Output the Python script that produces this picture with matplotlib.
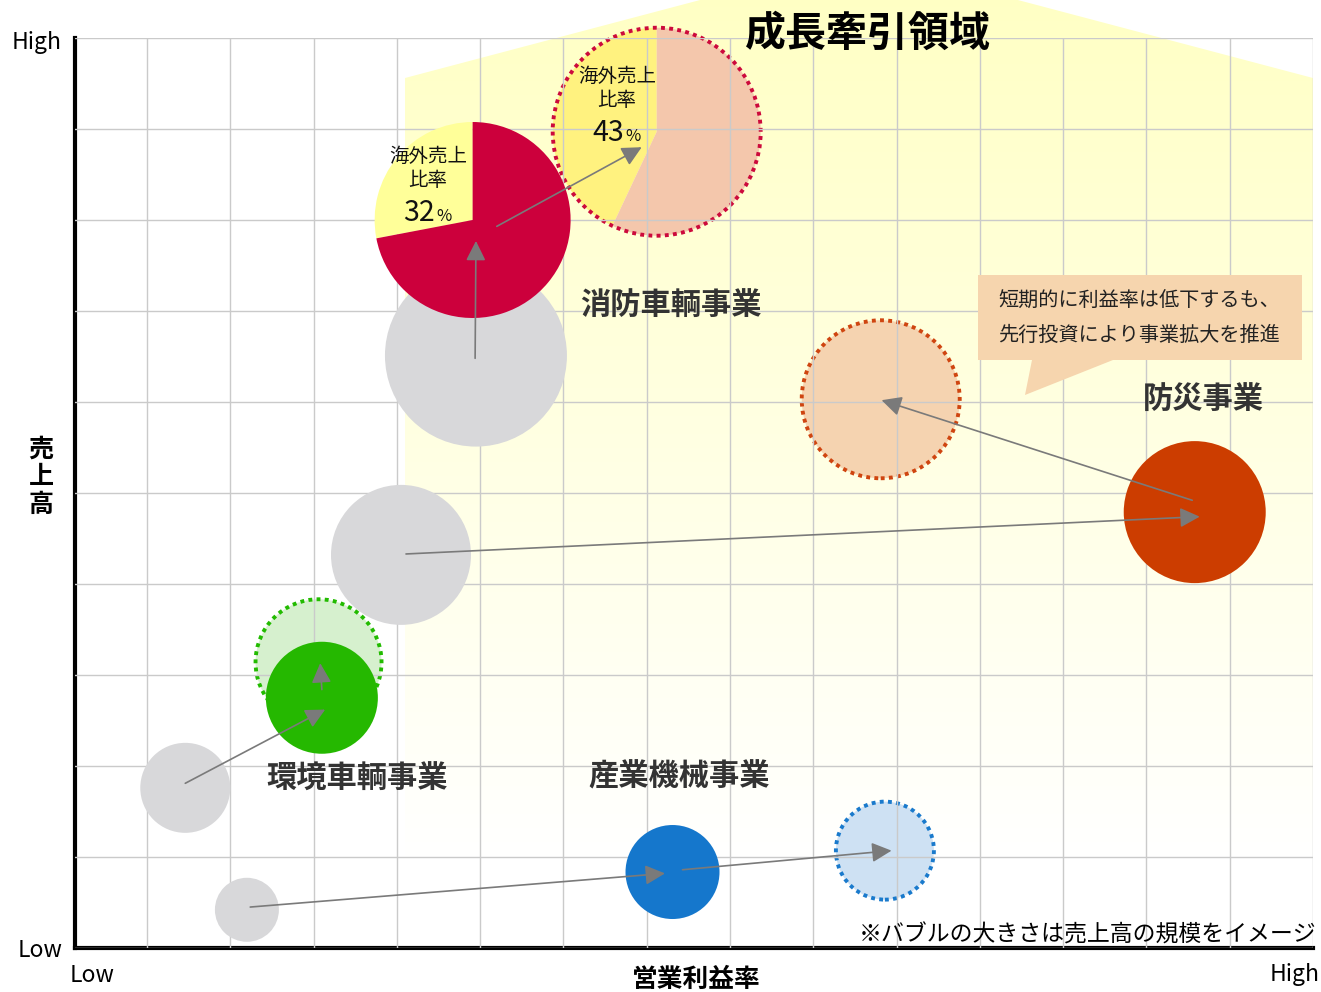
import matplotlib
matplotlib.use("Agg")
import matplotlib.pyplot as plt
import numpy as np
from matplotlib.patches import Circle, Wedge, Polygon
from matplotlib.transforms import ScaledTranslation

plt.rcParams['font.family'] = ['Noto Sans CJK JP', 'DejaVu Sans']

# x: 営業利益率 (grid units), y: 売上高 (grid units), r: bubble radius (px)
grey_x = [1.20, 0.46, 3.05, 3.95]
grey_y = [0.42, 1.76, 4.32, 6.51]
grey_r = [32, 45, 70, 91]

segments = ['消防車輌事業', '防災事業', '環境車輌事業', '産業機械事業']
now_x = [3.91, 12.58, 2.10, 6.31]
now_y = [8.00, 4.79, 2.75, 0.835]
now_r = [98, 71, 56, 47]
fut_x = [6.12, 8.81, 2.06, 8.86]
fut_y = [8.97, 6.03, 3.14, 1.07]
fut_r = [104, 79, 63, 49]

# 海外売上比率 (消防車輌事業: now -> future)
overseas_label = [32, 43]
overseas_share = [0.28, 0.43]

arrow_from = [(1.24, 0.45), (6.43, 0.86), (0.46, 1.81), (2.10, 2.84),
              (3.11, 4.33), (12.55, 4.92), (3.94, 6.48), (4.20, 7.93)]
arrow_to = [(6.22, 0.82), (8.94, 1.07), (2.14, 2.62), (2.08, 3.13),
            (12.64, 4.74), (8.82, 6.02), (3.95, 7.77), (5.94, 8.80)]

now_col = ['#CC003C', '#CC3D00', '#25B800', '#1577CC']
fut_fill = [None, '#F5D3B0', '#D6F0CE', '#CEE1F3']
fut_edge = ['#CC0A3C', '#CF4510', '#22BB00', '#1A7ACC']

W, H = 1321, 992
fig = plt.figure(figsize=(W / 100, H / 100), dpi=100)

# background "growth area" with yellow gradient
bg = fig.add_axes([0, 0, 1, 1], zorder=0)
g = np.linspace(0, 1, 256)[:, None, None]
top = np.array([1.0, 1.0, 0.76])[None, None, :]
img = top * (1 - g) + g
im = bg.imshow(img, extent=[405, 1313, 860, -42], aspect='auto')
roof = Polygon([(405, 860), (405, 78), (859, -42), (1313, 78), (1313, 860)],
               closed=True, facecolor='none', edgecolor='none')
bg.add_patch(roof)
im.set_clip_path(roof)
bg.set_xlim(0, W)
bg.set_ylim(H, 0)
bg.axis('off')

# main chart
ax = fig.add_axes([75 / W, (H - 948) / H, (1313 - 75) / W, (948 - 38) / H], zorder=1)
ax.set_facecolor('none')
ax.set_xlim(-0.864, 14)
ax.set_ylim(0, 10)
ax.set_xticks(range(15))
ax.set_yticks(range(11))
ax.tick_params(length=0, labelbottom=False, labelleft=False)
ax.grid(True, color='#CACACA', lw=1.0)
ax.set_axisbelow(False)
for s in ['top', 'right']:
    ax.spines[s].set_visible(False)
for s in ['left', 'bottom']:
    ax.spines[s].set_linewidth(3)
    ax.spines[s].set_color('black')


def at(x, y):
    return ScaledTranslation(x, y, ax.transData)


def bubble(x, y, r, **kw):
    ax.add_patch(Circle((0, 0), r, transform=at(x, y), clip_on=False, **kw))


def pie(x, y, r, share, c_in, c_out, z):
    t = at(x, y)
    a = 90 + share * 360
    ax.add_patch(Wedge((0, 0), r, 90, a, transform=t, facecolor=c_in,
                       edgecolor='none', clip_on=False, zorder=z))
    ax.add_patch(Wedge((0, 0), r, a, 450, transform=t, facecolor=c_out,
                       edgecolor='none', clip_on=False, zorder=z))


dots = (0, (1, 1.1))

# future bubbles (under grid)
pie(fut_x[0], fut_y[0], fut_r[0], overseas_share[1], '#FFF27F', '#F4C7AC', 2)
bubble(fut_x[0], fut_y[0], fut_r[0], facecolor='none', edgecolor=fut_edge[0],
       lw=2.8, linestyle=dots, zorder=2.1)
for i in range(1, 4):
    bubble(fut_x[i], fut_y[i], fut_r[i], facecolor=fut_fill[i], edgecolor=fut_edge[i],
           lw=2.8, linestyle=dots, zorder=2)

# past bubbles
for x, y, r in zip(grey_x, grey_y, grey_r):
    bubble(x, y, r, facecolor='#D8D8DA', edgecolor='none', zorder=3)

# current bubbles
pie(now_x[0], now_y[0], now_r[0], overseas_share[0], '#FFFF99', now_col[0], 3.3)
for i in range(1, 4):
    bubble(now_x[i], now_y[i], now_r[i], facecolor=now_col[i], edgecolor='none', zorder=3.2)

for p0, p1 in zip(arrow_from, arrow_to):
    ax.annotate('', xy=p1, xytext=p0, zorder=5, annotation_clip=False,
                arrowprops=dict(arrowstyle='-|>,head_length=0.6,head_width=0.3',
                                mutation_scale=20, color='#7A7A7A', lw=1.2,
                                shrinkA=0, shrinkB=0))

# overlay for texts (pixel coords)
ov = fig.add_axes([0, 0, 1, 1], zorder=3)
ov.set_xlim(0, W)
ov.set_ylim(H, 0)
ov.axis('off')

ov.text(868, 34, '成長牽引領域', ha='center', va='center', fontsize=29.5,
        fontweight='bold', color='black')

label_pos = [(671, 306), (1203, 399), (357, 779), (679, 776)]
for name, (lx, ly) in zip(segments, label_pos):
    ov.text(lx, ly, name, ha='center', va='center', fontsize=21.8,
            fontweight='bold', color='#333333')

# callout
ov.add_patch(Polygon([(978, 275), (1302, 275), (1302, 360), (1113, 360),
                      (1025, 395), (1032, 360), (978, 360)],
                     closed=True, facecolor='#F6D5AE', edgecolor='none'))
ov.text(998, 301, '短期的に利益率は低下するも、', ha='left', va='center',
        fontsize=14.5, color='#222222')
ov.text(998, 335, '先行投資により事業拡大を推進', ha='left', va='center',
        fontsize=14.5, color='#222222')

# overseas ratio labels
for (cx, y1, y2, base, xr), v in zip([(428, 156, 181, 221, 435), (617, 76, 101, 141, 624)],
                                     overseas_label):
    ov.text(cx, y1, '海外売上', ha='center', va='center', fontsize=14, color='#111111')
    ov.text(cx, y2, '比率', ha='center', va='center', fontsize=14, color='#111111')
    ov.text(xr, base, str(v), ha='right', va='baseline', fontsize=20.5, color='#111111')
    ov.text(xr + 1, base, '%', ha='left', va='baseline', fontsize=12, color='#111111')

ov.text(1316, 935, '※バブルの大きさは売上高の規模をイメージ', ha='right', va='center',
        fontsize=16.5, color='black')

# axis labels
ov.text(62, 49, 'High', ha='right', va='baseline', fontsize=16.5)
ov.text(62, 957, 'Low', ha='right', va='baseline', fontsize=16.5)
ov.text(70, 982, 'Low', ha='left', va='baseline', fontsize=16.5)
ov.text(1320, 981, 'High', ha='right', va='baseline', fontsize=16.5)
ov.text(696, 966, '営業利益率', ha='center', va='top', fontsize=18.5, fontweight='bold')
ov.text(41, 477, '売\n上\n高', ha='center', va='center', fontsize=18,
        fontweight='bold', linespacing=1.2)

fig.savefig('out.png', dpi=100)
